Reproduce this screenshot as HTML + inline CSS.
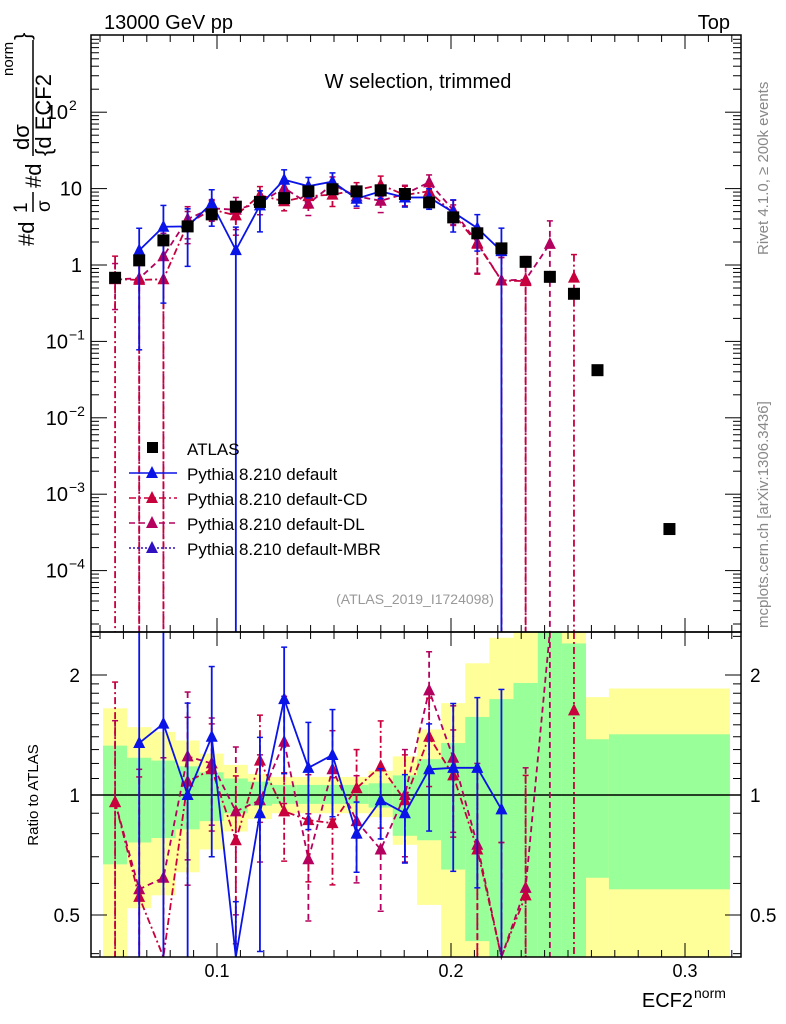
<!DOCTYPE html>
<html><head><meta charset="utf-8"><style>
body{margin:0;background:#fff}
svg{display:block;font-family:"Liberation Sans",sans-serif}
</style></head><body>
<svg id="chart" width="786" height="1024" viewBox="0 0 786 1024" xmlns="http://www.w3.org/2000/svg">
<rect width="786" height="1024" fill="#fff"/>
<g id="bands"></g>
<g id="grid"></g>
<g id="series"></g>
<g id="axes"></g>
<text x="104" y="29" font-size="20">13000 GeV pp</text>
<text x="730" y="29" font-size="20" text-anchor="end">Top</text>
<text x="418" y="88" font-size="20" text-anchor="middle">W selection, trimmed</text>
<text x="415" y="604" font-size="14" fill="#999" text-anchor="middle">(ATLAS_2019_I1724098)</text>
<text transform="translate(768,255) rotate(-90)" font-size="15" fill="#888">Rivet 4.1.0, ≥ 200k events</text>
<text transform="translate(768,628) rotate(-90)" font-size="15" fill="#888">mcplots.cern.ch [arXiv:1306.3436]</text>
<g font-size="22">
<text transform="translate(34,246) rotate(-90)">#d</text>
<text transform="translate(27,213) rotate(-90)" font-size="19">1</text>
<line x1="33" y1="192" x2="33" y2="212" stroke="#000" stroke-width="1.5"/>
<text transform="translate(50,212) rotate(-90)" font-size="19">σ</text>
<text transform="translate(41,188) rotate(-90)">#d</text>
<text transform="translate(29,150) rotate(-90)">dσ</text>
<line x1="33" y1="40" x2="33" y2="156" stroke="#000" stroke-width="1.5"/>
<text transform="translate(51,156) rotate(-90)">{d ECF2</text>
<text transform="translate(13,76) rotate(-90)" font-size="15">norm</text>
<text transform="translate(30,40) rotate(-90)">}</text>
</g>
<text transform="translate(38,795) rotate(-90)" font-size="15" text-anchor="middle">Ratio to ATLAS</text>
<text x="693" y="1007" font-size="20" text-anchor="end">ECF2</text>
<text x="694" y="998" font-size="14">norm</text>
<g id="legend"></g>
</svg>
<script>
const edges=[0.0513,0.0616,0.0719,0.0823,0.0926,0.1029,0.1132,0.1235,0.1339,0.1442,0.1545,0.1648,0.1751,0.1855,0.1958,0.2061,0.2164,0.2267,0.2371,0.2474,0.2577,0.2675,0.3192];
const atlas=[0.68,1.15,2.1,3.2,4.6,5.8,6.7,7.5,9.2,9.8,9.2,9.5,8.5,6.6,4.2,2.6,1.65,1.1,0.7,0.42,0.042,0.00035];
const ratioDefault=[null,1.35,1.51,1.0,1.40,0.27,0.90,1.74,1.17,1.26,0.80,0.97,0.90,1.16,1.17,1.17,0.92];
const errDefault=[0,0.95,0.9,0.7,0.5,1.0,0.55,0.35,0.3,0.3,0.2,0.2,0.25,0.3,0.45,0.5,1.0];
const ratioCD=[0.96,0.555,0.31,1.08,1.16,0.77,1.22,0.91,0.865,0.85,1.04,1.18,0.97,1.40,1.12,0.73,0.38,0.56,null,1.63];
const errCD=[1.0,1.0,1.0,0.45,0.3,0.45,0.3,0.25,0.3,0.3,0.25,0.3,0.3,0.25,0.3,0.6,1.0,1.0,0,1.0];
const ratioDL=[0.96,0.58,0.62,1.25,1.2,0.91,0.97,1.36,0.69,1.16,0.86,0.73,1.0,1.83,1.24,0.75,0.38,0.585,2.7,null];
const errDL=[0.6,1.0,1.0,0.45,0.3,0.45,0.3,0.3,0.3,0.25,0.3,0.3,0.3,0.25,0.35,0.6,1.0,1.0,1.0,0];
const yelHi=[1.65,1.48,1.44,1.37,1.27,1.19,1.13,1.11,1.11,1.11,1.11,1.15,1.25,1.46,1.70,2.14,2.48,3,3,3,1.76,1.85];
const grnHi=[1.33,1.24,1.22,1.18,1.14,1.10,1.08,1.06,1.06,1.06,1.06,1.07,1.12,1.23,1.35,1.57,1.74,1.91,3,2.4,1.38,1.42];
const grnLo=[0.67,0.76,0.78,0.82,0.86,0.90,0.94,0.95,0.95,0.95,0.95,0.93,0.79,0.77,0.65,0.43,0.3,0.3,0.3,0.3,0.62,0.58];
const yelLo=[0.3,0.52,0.56,0.64,0.73,0.81,0.87,0.9,0.9,0.9,0.9,0.88,0.75,0.53,0.3,0.3,0.3,0.3,0.3,0.3,0.3,0.3];

const NS="http://www.w3.org/2000/svg";
const L=91,R=741,T=35,MB=632,RB=957;
const X=v=>217+(v-0.1)*2340;
const Y=v=>265-76.4*Math.log10(v);
const YR=r=>795-120*Math.log2(r);
const clampM=y=>Math.max(T,Math.min(MB,y));
const clampR=y=>Math.max(MB,Math.min(RB,y));
function mk(tag,attrs,parent){const e=document.createElementNS(NS,tag);for(const k in attrs)e.setAttribute(k,attrs[k]);parent.appendChild(e);return e;}
const bands=document.getElementById('bands'),series=document.getElementById('series'),axes=document.getElementById('axes'),legend=document.getElementById('legend');
const cen=i=>(edges[i]+edges[i+1])/2;

// bands
for(let i=0;i<yelHi.length;i++){
  const x1=X(edges[i]),x2=X(edges[i+1]);
  const y=mk('rect',{x:x1,y:clampR(YR(yelHi[i])),width:x2-x1,height:clampR(YR(yelLo[i]))-clampR(YR(yelHi[i])),fill:'#ffff99'},bands);
  
  
  const g=mk('rect',{x:x1,y:clampR(YR(grnHi[i])),width:x2-x1,height:clampR(YR(grnLo[i]))-clampR(YR(grnHi[i])),fill:'#99ff99'},bands);
  
  
}
mk('line',{x1:L,y1:795,x2:R,y2:795,stroke:'#000','stroke-width':1.5},bands);

function tri(x,y,c,parent,name){
  const p=mk('polygon',{points:`${x},${y-7} ${x-6},${y+5} ${x+6},${y+5}`,fill:c},parent);
  
  
}
function drawMC(ratios,errs,color,dash,name){
  const gm=mk('g',{},series);
  
  
  let pm=[],pr=[];
  const segsM=[],segsR=[];
  ratios.forEach((r,i)=>{
    if(r==null){if(pm.length)segsM.push(pm),segsR.push(pr);pm=[];pr=[];return;}
    const v=atlas[i]*r,x=X(cen(i));
    pm.push([x,clampM(Y(v))]);pr.push([x,clampR(YR(r))]);
  });
  if(pm.length)segsM.push(pm),segsR.push(pr);
  const attrs={fill:'none',stroke:color,'stroke-width':1.8};if(dash)attrs['stroke-dasharray']=dash;
  segsM.forEach(s=>mk('polyline',Object.assign({points:s.map(p=>p.join(',')).join(' ')},attrs),gm));
  segsR.forEach(s=>mk('polyline',Object.assign({points:s.map(p=>p.join(',')).join(' ')},attrs),gm));
  ratios.forEach((r,i)=>{
    if(r==null)return;
    const v=atlas[i]*r,x=X(cen(i)),e=errs[i];
    const hi=v*(1+e),lo=Math.max(v*(1-e),1e-6);
    const y1=clampM(Y(hi)),y2=clampM(Y(lo));
    mk('line',Object.assign({x1:x,x2:x,y1:y1,y2:y2},attrs),gm);
    if(y1>T)mk('line',{x1:x-3,x2:x+3,y1:y1,y2:y1,stroke:color,'stroke-width':1.5},gm);
    if(y2<MB)mk('line',{x1:x-3,x2:x+3,y1:y2,y2:y2,stroke:color,'stroke-width':1.5},gm);
    const r1=clampR(YR(r*(1+e))),r2=clampR(YR(Math.max(r*(1-e),1e-6)));
    mk('line',Object.assign({x1:x,x2:x,y1:r1,y2:r2},attrs),gm);
    if(r1>MB)mk('line',{x1:x-3,x2:x+3,y1:r1,y2:r1,stroke:color,'stroke-width':1.5},gm);
    if(r2<RB)mk('line',{x1:x-3,x2:x+3,y1:r2,y2:r2,stroke:color,'stroke-width':1.5},gm);
    const ym=Y(v);if(ym>=T&&ym<=MB)tri(x,ym,color,gm,name+'-marker');
    const yr=YR(r);if(yr>=MB&&yr<=RB)tri(x,yr,color,gm,name+'-ratio-marker');
  });
}
drawMC(ratioDL,errDL,'#b4005e','6,4','pythia-default-dl');
drawMC(ratioCD,errCD,'#c8003c','7,3,2,3','pythia-default-cd');
drawMC(ratioDefault,errDefault,'#0a14e6',null,'pythia-default');

// ATLAS data
atlas.forEach((v,i)=>{
  const x=X(cen(i)),y=Y(v);
  const s=mk('rect',{x:x-6,y:y-6,width:12,height:12,fill:'#000'},series);
  
  
});

// frames
mk('rect',{x:L,y:T,width:R-L,height:MB-T,fill:'none',stroke:'#000','stroke-width':1.5},axes);
mk('rect',{x:L,y:MB,width:R-L,height:RB-MB,fill:'none',stroke:'#000','stroke-width':1.5},axes);
// x ticks
for(let k=5;k<=32;k++){
  const v=k/100,x=X(v);if(x<L||x>R)continue;const maj=k%10==0;const len=maj?14:7;
  [[T,T+len],[MB,MB-len],[MB,MB+len],[RB,RB-len]].forEach(([a,b])=>mk('line',{x1:x,x2:x,y1:a,y2:b,stroke:'#000','stroke-width':1},axes));
}
['0.1','0.2','0.3'].forEach(t=>{const e=mk('text',{x:X(+t),y:977,'font-size':18,'text-anchor':'middle'},axes);e.textContent=t;
 
 });
// main y ticks
for(let d=-5;d<=2;d++){for(let m=1;m<=9;m++){const v=m*Math.pow(10,d),y=Y(v);if(y<T||y>MB)continue;const len=m==1?16:8;
 mk('line',{x1:L,x2:L+len,y1:y,y2:y,stroke:'#000','stroke-width':1},axes);mk('line',{x1:R,x2:R-len,y1:y,y2:y,stroke:'#000','stroke-width':1},axes);}}
const ylabs=[[2,'10','2'],[1,'10',''],[0,'1',''],[-1,'10','−1'],[-2,'10','−2'],[-3,'10','−3'],[-4,'10','−4']];
ylabs.forEach(([d,b,s])=>{const y=Y(Math.pow(10,d))+7;
 const e=mk('text',{x:s?68:82,y:y,'font-size':20,'text-anchor':'end'},axes);e.textContent=b;
 
 
 if(s){const t=mk('text',{x:69,y:y-9,'font-size':14},axes);t.textContent=s;}});
// ratio ticks
[0.4,0.5,0.6,0.7,0.8,0.9,1,1.1,1.2,1.3,1.4,1.5,1.6,1.7,1.8,1.9,2,2.5].forEach(r=>{const y=YR(r);if(y<MB||y>RB)return;const maj=(r==0.5||r==1||r==2);const len=maj?16:8;
 mk('line',{x1:L,x2:L+len,y1:y,y2:y,stroke:'#000','stroke-width':1},axes);mk('line',{x1:R,x2:R-len,y1:y,y2:y,stroke:'#000','stroke-width':1},axes);});
[['2',2],['1',1],['0.5',0.5]].forEach(([t,r])=>{
 const a=mk('text',{x:80,y:YR(r)+7,'font-size':19,'text-anchor':'end'},axes);a.textContent=t;
 
 
 const b=mk('text',{x:750,y:YR(r)+7,'font-size':19},axes);b.textContent=t;
 
 });

// legend
const leg=[['ATLAS','#000',null,'sq'],['Pythia 8.210 default','#0a14e6',null,'tri'],['Pythia 8.210 default-CD','#c8003c','7,3,2,3','tri'],['Pythia 8.210 default-DL','#b4005e','6,4','tri'],['Pythia 8.210 default-MBR','#3010c0','2,2','tri']];
leg.forEach(([t,c,d,m],i)=>{const y=448+25*i;
 const g=mk('g',{},legend);
 
 
 if(m=='sq')mk('rect',{x:147,y:y-6,width:11,height:11,fill:'#000'},g);
 else{const a={x1:129,x2:177,y1:y,y2:y,stroke:c,'stroke-width':1.5};if(d)a['stroke-dasharray']=d;mk('line',a,g);tri(152,y,c,g,'legend-marker');}
 const e=mk('text',{x:187,y:y+7,'font-size':17},g);e.textContent=t;});
</script>
</body></html>
